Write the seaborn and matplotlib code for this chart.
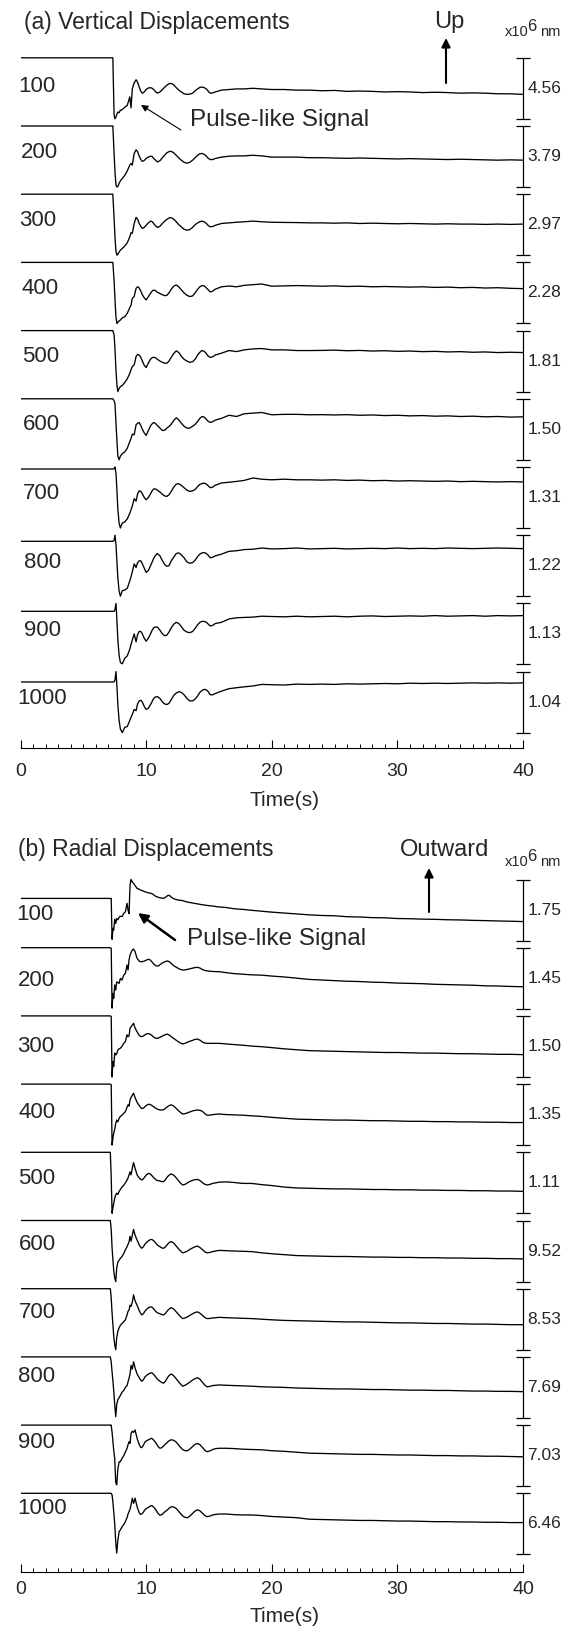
import numpy as np
import pandas as pd
import matplotlib
matplotlib.use('Agg')
import matplotlib.pyplot as plt
from matplotlib.ticker import MultipleLocator
import seaborn as sns

sns.set_theme(style='ticks')
plt.rcParams['font.family'] = ['Liberation Sans', 'DejaVu Sans']

## Data
# every trace is scaled to its own peak-to-peak range:
# 1 = top of its scale bar, 0 = bottom of its scale bar
distances = [100, 200, 300, 400, 500, 600, 700, 800, 900, 1000]

# (a) vertical displacements
time_v = [0.0, 7.35, 7.45, 7.52, 7.6, 7.68, 7.75, 7.85, 7.95, 8.1,
          8.3, 8.5, 8.7, 8.8, 8.9, 9.05, 9.2, 9.32, 9.45, 9.58,
          9.7, 9.85, 10.0, 10.18, 10.35, 10.48, 10.6, 10.75, 10.9, 11.1,
          11.3, 11.48, 11.65, 11.82, 12.0, 12.2, 12.4, 12.6, 12.8, 13.02,
          13.25, 13.48, 13.7, 13.9, 14.1, 14.28, 14.45, 14.63, 14.8, 14.95,
          15.1, 15.3, 15.5, 16.0, 16.6, 17.2, 17.8, 18.5, 19.2,
          20, 21, 22, 23, 24, 25, 26, 27, 28, 29, 30, 31, 32, 33, 34, 35, 36, 37, 38, 39, 40]

vert_100 = [1.0, 1.0, 0.06, 0.0, 0.03, 0.08, 0.11, 0.10, 0.14, 0.15,
            0.19, 0.22, 0.36, 0.18, 0.49, 0.59, 0.64, 0.60, 0.52, 0.45,
            0.42, 0.44, 0.48, 0.505, 0.51, 0.50, 0.48, 0.445, 0.42, 0.44,
            0.48, 0.52, 0.55, 0.575, 0.58, 0.555, 0.51, 0.47, 0.44, 0.41,
            0.40, 0.405, 0.42, 0.46, 0.49, 0.515, 0.52, 0.51, 0.49, 0.45,
            0.42, 0.425, 0.44, 0.47, 0.48, 0.49, 0.49, 0.50, 0.49,
            0.48, 0.48, 0.47, 0.47, 0.46, 0.465, 0.45, 0.455, 0.45, 0.44, 0.445,
            0.44, 0.43, 0.435, 0.43, 0.42, 0.425, 0.42, 0.41, 0.41, 0.40]
vert_200 = [1.0, 1.0, 0.55, 0.25, 0.03, 0.0, 0.01, 0.06, 0.10, 0.14,
            0.19, 0.265, 0.36, 0.385, 0.36, 0.55, 0.61, 0.58, 0.505, 0.45,
            0.42, 0.435, 0.467, 0.49, 0.505, 0.50, 0.467, 0.44, 0.412, 0.43,
            0.482, 0.525, 0.56, 0.58, 0.585, 0.56, 0.52, 0.475, 0.44, 0.405,
            0.39, 0.405, 0.44, 0.48, 0.52, 0.545, 0.55, 0.535, 0.505, 0.47,
            0.45, 0.45, 0.467, 0.49, 0.505, 0.51, 0.51, 0.52, 0.51,
            0.49, 0.49, 0.49, 0.48, 0.48, 0.475, 0.47, 0.475, 0.47, 0.465, 0.46,
            0.465, 0.46, 0.455, 0.45, 0.455, 0.45, 0.445, 0.44, 0.445, 0.44]
vert_300 = [1.0, 1.0, 0.6, 0.3, 0.06, 0.0, 0.018, 0.05, 0.083, 0.11,
            0.15, 0.204, 0.30, 0.37, 0.36, 0.52, 0.62, 0.59, 0.52, 0.47,
            0.44, 0.455, 0.49, 0.53, 0.559, 0.55, 0.52, 0.48, 0.455, 0.475,
            0.52, 0.56, 0.587, 0.61, 0.614, 0.59, 0.548, 0.50, 0.466, 0.425,
            0.41, 0.42, 0.455, 0.50, 0.53, 0.55, 0.559, 0.545, 0.52, 0.485,
            0.466, 0.47, 0.49, 0.52, 0.53, 0.54, 0.548, 0.559, 0.548,
            0.54, 0.537, 0.535, 0.53, 0.53, 0.525, 0.53, 0.52, 0.525, 0.52, 0.515,
            0.52, 0.515, 0.51, 0.515, 0.51, 0.51, 0.505, 0.51, 0.505, 0.51]
vert_400 = [1.0, 1.0, 0.7, 0.4, 0.1, 0.0, 0.02, 0.04, 0.055, 0.09,
            0.11, 0.165, 0.26, 0.30, 0.41, 0.44, 0.575, 0.60, 0.58, 0.53,
            0.47, 0.42, 0.384, 0.44, 0.493, 0.53, 0.548, 0.535, 0.51, 0.49,
            0.47, 0.455, 0.46, 0.50, 0.56, 0.61, 0.63, 0.60, 0.55, 0.50,
            0.46, 0.44, 0.45, 0.50, 0.56, 0.60, 0.62, 0.615, 0.58, 0.55,
            0.515, 0.53, 0.56, 0.60, 0.613, 0.60, 0.624, 0.635, 0.646,
            0.61, 0.615, 0.62, 0.615, 0.61, 0.615, 0.605, 0.61, 0.60, 0.605, 0.60,
            0.595, 0.60, 0.59, 0.595, 0.585, 0.59, 0.58, 0.585, 0.575, 0.57]
vert_500 = [1.0, 1.0, 0.93, 0.7, 0.35, 0.1, 0.0, 0.05, 0.082, 0.10,
            0.15, 0.21, 0.30, 0.36, 0.41, 0.438, 0.575, 0.61, 0.60, 0.56,
            0.50, 0.43, 0.394, 0.47, 0.531, 0.555, 0.563, 0.555, 0.53, 0.50,
            0.48, 0.465, 0.465, 0.50, 0.563, 0.625, 0.668, 0.64, 0.58, 0.53,
            0.50, 0.48, 0.49, 0.53, 0.60, 0.645, 0.673, 0.66, 0.62, 0.58,
            0.56, 0.57, 0.60, 0.63, 0.673, 0.656, 0.684, 0.70, 0.706,
            0.684, 0.684, 0.673, 0.673, 0.675, 0.68, 0.67, 0.675, 0.665, 0.67, 0.66,
            0.665, 0.655, 0.66, 0.65, 0.655, 0.645, 0.65, 0.64, 0.645, 0.64]
vert_600 = [1.0, 1.0, 0.97, 0.92, 0.6, 0.3, 0.06, 0.0, 0.06, 0.10,
            0.13, 0.19, 0.30, 0.35, 0.42, 0.41, 0.574, 0.60, 0.61, 0.56,
            0.50, 0.44, 0.40, 0.48, 0.557, 0.59, 0.612, 0.595, 0.56, 0.52,
            0.48, 0.485, 0.52, 0.545, 0.585, 0.645, 0.689, 0.655, 0.60, 0.55,
            0.519, 0.52, 0.55, 0.58, 0.628, 0.68, 0.71, 0.70, 0.66, 0.63,
            0.612, 0.625, 0.65, 0.68, 0.73, 0.71, 0.754, 0.765, 0.776,
            0.738, 0.745, 0.745, 0.738, 0.74, 0.735, 0.74, 0.73, 0.735, 0.725, 0.73,
            0.72, 0.725, 0.715, 0.72, 0.71, 0.715, 0.705, 0.71, 0.70, 0.705]
vert_700 = [0.967, 0.967, 0.97, 1.0, 0.9, 0.6, 0.3, 0.08, 0.0, 0.08,
            0.10, 0.15, 0.24, 0.30, 0.36, 0.48, 0.44, 0.56, 0.61, 0.60,
            0.56, 0.50, 0.464, 0.50, 0.56, 0.61, 0.64, 0.64, 0.62, 0.59,
            0.55, 0.525, 0.518, 0.545, 0.60, 0.67, 0.72, 0.725, 0.70, 0.66,
            0.62, 0.60, 0.61, 0.63, 0.68, 0.715, 0.73, 0.735, 0.72, 0.69,
            0.66, 0.67, 0.70, 0.738, 0.75, 0.764, 0.78, 0.82, 0.80,
            0.79, 0.80, 0.79, 0.79, 0.785, 0.79, 0.78, 0.785, 0.775, 0.78, 0.77,
            0.775, 0.77, 0.765, 0.77, 0.76, 0.765, 0.76, 0.755, 0.76, 0.755]
vert_800 = [0.90, 0.90, 0.91, 1.0, 0.85, 0.55, 0.3, 0.08, 0.0, 0.09,
            0.10, 0.13, 0.25, 0.32, 0.40, 0.53, 0.47, 0.55, 0.58, 0.58,
            0.53, 0.46, 0.39, 0.42, 0.50, 0.56, 0.62, 0.67, 0.70, 0.66,
            0.58, 0.52, 0.49, 0.50, 0.58, 0.64, 0.70, 0.71, 0.68, 0.63,
            0.56, 0.54, 0.55, 0.59, 0.65, 0.69, 0.71, 0.715, 0.70, 0.67,
            0.63, 0.64, 0.66, 0.69, 0.736, 0.745, 0.764, 0.77, 0.79,
            0.775, 0.78, 0.79, 0.775, 0.78, 0.785, 0.775, 0.78, 0.785, 0.78, 0.79,
            0.78, 0.785, 0.78, 0.79, 0.785, 0.78, 0.785, 0.79, 0.785, 0.78]
vert_900 = [0.87, 0.87, 0.87, 0.90, 1.0, 0.7, 0.4, 0.15, 0.03, 0.01,
            0.10, 0.14, 0.25, 0.33, 0.40, 0.50, 0.37, 0.49, 0.54, 0.54,
            0.50, 0.43, 0.38, 0.43, 0.50, 0.56, 0.60, 0.615, 0.61, 0.56,
            0.50, 0.47, 0.48, 0.53, 0.60, 0.66, 0.69, 0.67, 0.62, 0.56,
            0.53, 0.52, 0.54, 0.59, 0.65, 0.69, 0.705, 0.705, 0.69, 0.66,
            0.63, 0.64, 0.67, 0.69, 0.745, 0.764, 0.77, 0.775, 0.79,
            0.785, 0.78, 0.79, 0.78, 0.785, 0.79, 0.78, 0.79, 0.795, 0.785, 0.79,
            0.795, 0.79, 0.80, 0.79, 0.795, 0.80, 0.79, 0.80, 0.795, 0.80]
vert_1000 = [0.83, 0.83, 0.83, 0.86, 1.0, 0.75, 0.45, 0.2, 0.06, 0.0,
             0.085, 0.10, 0.20, 0.25, 0.30, 0.38, 0.36, 0.47, 0.52, 0.53,
             0.50, 0.43, 0.38, 0.40, 0.46, 0.51, 0.56, 0.585, 0.59, 0.56,
             0.50, 0.47, 0.46, 0.48, 0.54, 0.61, 0.65, 0.67, 0.66, 0.62,
             0.56, 0.52, 0.52, 0.55, 0.60, 0.66, 0.69, 0.71, 0.70, 0.67,
             0.62, 0.62, 0.64, 0.68, 0.72, 0.736, 0.75, 0.764, 0.79,
             0.785, 0.78, 0.795, 0.79, 0.795, 0.79, 0.80, 0.795, 0.80, 0.805, 0.80,
             0.81, 0.805, 0.81, 0.805, 0.81, 0.815, 0.81, 0.815, 0.81, 0.815]
vert_scale = ['4.56', '3.79', '2.97', '2.28', '1.81', '1.50', '1.31', '1.22', '1.13', '1.04']

# (b) radial displacements
time_r = [0.0, 7.15, 7.22, 7.29, 7.36, 7.42, 7.5, 7.58, 7.66, 7.75, 7.85, 7.95, 8.08,
          8.22, 8.35, 8.48, 8.56, 8.64, 8.72, 8.8, 8.9, 9.0, 9.12,
          9.28, 9.45, 9.55, 9.65, 9.78, 9.9, 10.05, 10.2, 10.32, 10.45,
          10.62, 10.8, 10.95, 11.1, 11.25, 11.4, 11.55, 11.7, 11.85, 12.0,
          12.2, 12.4, 12.65, 12.9, 13.1, 13.3, 13.5, 13.7, 13.9, 14.1,
          14.3, 14.5, 14.68, 14.85, 15.05, 15.3, 15.55, 15.8,
          16.4, 17.0, 17.7, 18.4, 19.2,
          20, 21, 22, 23, 24, 25, 26, 27, 28, 29, 30, 31, 32, 33, 34, 35, 36, 37, 38, 39, 40]

rad_100 = [0.69, 0.69, 0.69, 0.02, 0.20, 0.17, 0.35, 0.28, 0.36, 0.34, 0.38, 0.40, 0.39,
           0.445, 0.47, 0.61, 0.50, 0.44, 0.91, 1.0, 0.96, 0.937, 0.90,
           0.855, 0.84, 0.828, 0.82, 0.81, 0.80, 0.79, 0.78, 0.775, 0.77,
           0.745, 0.72, 0.71, 0.70, 0.695, 0.69, 0.71, 0.735, 0.74, 0.71,
           0.685, 0.67, 0.66, 0.655, 0.64, 0.63, 0.622, 0.615, 0.607, 0.60,
           0.592, 0.585, 0.58, 0.575, 0.57, 0.565, 0.557, 0.55,
           0.54, 0.52, 0.51, 0.495, 0.48,
           0.465, 0.45, 0.435, 0.42, 0.41, 0.405, 0.39, 0.385, 0.375, 0.372, 0.36,
           0.357, 0.35, 0.347, 0.34, 0.337, 0.33, 0.326, 0.32, 0.316, 0.31]
rad_200 = [1.0, 1.0, 0.99, 0.01, 0.25, 0.17, 0.39, 0.306, 0.44, 0.43, 0.415, 0.497, 0.47,
           0.552, 0.58, 0.716, 0.634, 0.80, 0.88, 0.92, 0.962, 0.978, 0.935,
           0.825, 0.78, 0.77, 0.771, 0.775, 0.785, 0.80, 0.81, 0.80, 0.77,
           0.73, 0.70, 0.70, 0.72, 0.745, 0.76, 0.775, 0.782, 0.77, 0.74,
           0.705, 0.68, 0.65, 0.634, 0.635, 0.645, 0.655, 0.665, 0.675, 0.678,
           0.665, 0.64, 0.627, 0.62, 0.615, 0.61, 0.608, 0.607,
           0.59, 0.575, 0.565, 0.555, 0.55,
           0.535, 0.52, 0.50, 0.48, 0.47, 0.46, 0.45, 0.445, 0.435, 0.43, 0.42,
           0.415, 0.41, 0.40, 0.395, 0.39, 0.385, 0.375, 0.372, 0.365, 0.36]
rad_300 = [1.0, 1.0, 0.99, 0.0, 0.25, 0.17, 0.39, 0.36, 0.38, 0.44, 0.46, 0.47, 0.50,
           0.55, 0.58, 0.69, 0.66, 0.67, 0.80, 0.82, 0.85, 0.88, 0.80,
           0.74, 0.68, 0.665, 0.66, 0.67, 0.69, 0.705, 0.71, 0.70, 0.68,
           0.65, 0.63, 0.635, 0.65, 0.665, 0.68, 0.695, 0.70, 0.685, 0.66,
           0.63, 0.60, 0.565, 0.54, 0.55, 0.57, 0.585, 0.60, 0.615, 0.62,
           0.60, 0.57, 0.555, 0.55, 0.55, 0.55, 0.55, 0.55,
           0.54, 0.53, 0.52, 0.505, 0.495,
           0.48, 0.46, 0.445, 0.43, 0.425, 0.42, 0.415, 0.41, 0.405, 0.40, 0.40,
           0.395, 0.39, 0.39, 0.385, 0.38, 0.38, 0.375, 0.37, 0.37, 0.365]
rad_400 = [1.0, 1.0, 0.99, 0.0, 0.12, 0.19, 0.26, 0.355, 0.41, 0.38, 0.44, 0.47, 0.49,
           0.52, 0.55, 0.62, 0.66, 0.64, 0.74, 0.78, 0.82, 0.85, 0.78,
           0.70, 0.65, 0.62, 0.60, 0.605, 0.63, 0.655, 0.67, 0.665, 0.65,
           0.625, 0.60, 0.585, 0.575, 0.575, 0.58, 0.605, 0.63, 0.65, 0.66,
           0.64, 0.60, 0.55, 0.51, 0.515, 0.53, 0.545, 0.56, 0.57, 0.575,
           0.57, 0.55, 0.515, 0.49, 0.49, 0.50, 0.505, 0.51,
           0.50, 0.495, 0.49, 0.48, 0.47,
           0.455, 0.44, 0.425, 0.42, 0.415, 0.41, 0.41, 0.405, 0.40, 0.40, 0.395,
           0.39, 0.39, 0.385, 0.385, 0.38, 0.38, 0.375, 0.375, 0.37, 0.37]
rad_500 = [1.0, 1.0, 0.6, 0.0, 0.10, 0.16, 0.25, 0.30, 0.33, 0.31, 0.36, 0.39, 0.43,
           0.46, 0.50, 0.546, 0.58, 0.63, 0.68, 0.63, 0.74, 0.83, 0.74,
           0.63, 0.58, 0.56, 0.546, 0.565, 0.60, 0.635, 0.655, 0.645, 0.62,
           0.58, 0.546, 0.535, 0.53, 0.52, 0.52, 0.555, 0.60, 0.63, 0.645,
           0.625, 0.58, 0.515, 0.464, 0.475, 0.50, 0.525, 0.54, 0.552, 0.556,
           0.535, 0.50, 0.475, 0.464, 0.472, 0.49, 0.50, 0.51,
           0.515, 0.505, 0.49, 0.49, 0.47,
           0.455, 0.43, 0.415, 0.41, 0.405, 0.40, 0.40, 0.395, 0.39, 0.39, 0.385,
           0.385, 0.38, 0.38, 0.375, 0.375, 0.37, 0.37, 0.365, 0.365, 0.36]
rad_600 = [1.0, 1.0, 0.85, 0.55, 0.35, 0.18, 0.06, 0.0, 0.22, 0.32, 0.35, 0.38, 0.41,
           0.46, 0.52, 0.57, 0.61, 0.65, 0.74, 0.66, 0.76, 0.855, 0.76,
           0.68, 0.60, 0.565, 0.545, 0.57, 0.61, 0.645, 0.67, 0.685, 0.69,
           0.665, 0.62, 0.59, 0.57, 0.55, 0.545, 0.57, 0.61, 0.64, 0.655,
           0.63, 0.58, 0.52, 0.47, 0.48, 0.50, 0.53, 0.55, 0.57, 0.58,
           0.555, 0.52, 0.485, 0.47, 0.475, 0.49, 0.50, 0.51,
           0.505, 0.50, 0.495, 0.49, 0.47,
           0.455, 0.44, 0.425, 0.42, 0.415, 0.41, 0.41, 0.405, 0.40, 0.40, 0.395,
           0.395, 0.39, 0.39, 0.385, 0.385, 0.38, 0.38, 0.375, 0.375, 0.37]
rad_700 = [1.0, 1.0, 0.85, 0.6, 0.4, 0.22, 0.08, 0.0, 0.2, 0.30, 0.36, 0.40, 0.43,
           0.46, 0.49, 0.57, 0.63, 0.65, 0.73, 0.71, 0.78, 0.90, 0.80,
           0.73, 0.64, 0.60, 0.57, 0.59, 0.63, 0.665, 0.69, 0.70, 0.70,
           0.665, 0.62, 0.60, 0.59, 0.575, 0.57, 0.60, 0.64, 0.67, 0.69,
           0.665, 0.62, 0.56, 0.51, 0.52, 0.54, 0.565, 0.59, 0.61, 0.62,
           0.595, 0.56, 0.525, 0.51, 0.512, 0.52, 0.525, 0.53,
           0.525, 0.52, 0.515, 0.51, 0.50,
           0.49, 0.48, 0.475, 0.47, 0.465, 0.46, 0.455, 0.455, 0.45, 0.445, 0.44,
           0.44, 0.435, 0.43, 0.43, 0.425, 0.42, 0.42, 0.415, 0.41, 0.41]
rad_800 = [1.0, 1.0, 0.92, 0.75, 0.6, 0.45, 0.22, 0.02, 0.22, 0.30, 0.33, 0.37, 0.42,
           0.45, 0.50, 0.53, 0.59, 0.65, 0.72, 0.86, 0.80, 0.92, 0.82,
           0.72, 0.66, 0.625, 0.60, 0.625, 0.67, 0.70, 0.72, 0.735, 0.74,
           0.71, 0.66, 0.625, 0.60, 0.58, 0.57, 0.605, 0.66, 0.70, 0.72,
           0.69, 0.64, 0.575, 0.52, 0.535, 0.56, 0.59, 0.62, 0.645, 0.66,
           0.63, 0.58, 0.535, 0.51, 0.515, 0.53, 0.535, 0.54,
           0.535, 0.53, 0.525, 0.52, 0.51,
           0.505, 0.50, 0.49, 0.485, 0.48, 0.475, 0.475, 0.47, 0.465, 0.465, 0.46,
           0.455, 0.455, 0.45, 0.45, 0.445, 0.44, 0.44, 0.435, 0.435, 0.43]
rad_900 = [1.0, 1.0, 1.0, 0.88, 0.72, 0.59, 0.45, 0.06, 0.02, 0.28, 0.40, 0.40, 0.455,
           0.50, 0.56, 0.62, 0.68, 0.728, 0.70, 0.865, 0.90, 0.88, 0.92,
           0.783, 0.68, 0.64, 0.63, 0.67, 0.72, 0.745, 0.76, 0.775, 0.783,
           0.75, 0.70, 0.65, 0.62, 0.63, 0.66, 0.69, 0.72, 0.745, 0.76,
           0.75, 0.72, 0.655, 0.60, 0.58, 0.58, 0.61, 0.65, 0.685, 0.70,
           0.675, 0.63, 0.585, 0.564, 0.575, 0.60, 0.615, 0.62,
           0.62, 0.615, 0.605, 0.60, 0.595,
           0.58, 0.57, 0.555, 0.54, 0.535, 0.53, 0.525, 0.52, 0.52, 0.515, 0.51,
           0.51, 0.505, 0.50, 0.50, 0.495, 0.495, 0.49, 0.49, 0.485, 0.48]
rad_1000 = [1.0, 1.0, 1.0, 0.97, 0.85, 0.70, 0.50, 0.20, 0.02, 0.23, 0.37, 0.40, 0.45,
            0.49, 0.535, 0.60, 0.66, 0.70, 0.74, 0.81, 0.92, 0.835, 0.92,
            0.78, 0.68, 0.655, 0.66, 0.69, 0.73, 0.755, 0.77, 0.79, 0.80,
            0.77, 0.72, 0.67, 0.64, 0.65, 0.68, 0.705, 0.73, 0.76, 0.78,
            0.775, 0.75, 0.69, 0.63, 0.605, 0.60, 0.63, 0.67, 0.71, 0.73,
            0.71, 0.67, 0.635, 0.617, 0.625, 0.645, 0.655, 0.66,
            0.66, 0.65, 0.645, 0.645, 0.635,
            0.62, 0.61, 0.60, 0.575, 0.57, 0.565, 0.56, 0.555, 0.555, 0.55, 0.545,
            0.545, 0.54, 0.535, 0.535, 0.53, 0.53, 0.525, 0.525, 0.52, 0.52]
rad_scale = ['1.75', '1.45', '1.50', '1.35', '1.11', '9.52', '8.53', '7.69', '7.03', '6.46']

vert_traces = [vert_100, vert_200, vert_300, vert_400, vert_500,
               vert_600, vert_700, vert_800, vert_900, vert_1000]
rad_traces = [rad_100, rad_200, rad_300, rad_400, rad_500,
              rad_600, rad_700, rad_800, rad_900, rad_1000]

## Layout (output pixels, measured from the top)
W, H = 587, 1628
X0, X40 = 20.5, 523.0     # x of t=0 and t=40
BAR_H = 61.0              # height of one scale bar
STEP = 68.2               # distance between bar tops


def fpos(x, y):
    return x / W, 1 - y / H


def long_table(time, traces):
    parts = []
    for i, (d, u) in enumerate(zip(distances, traces)):
        off = -i * STEP / BAR_H
        parts.append(pd.DataFrame({'time': time,
                                   'disp': np.array(u) - 1 + off,
                                   'dist': d}))
    return pd.concat(parts, ignore_index=True)


def panel(fig, time, traces, scales, top_px, band0_px, axis_px,
          tick_pad, xlabel_px, label_y, label_x):
    ax_h = axis_px - top_px
    ax = fig.add_axes([X0 / W, 1 - axis_px / H, (X40 - X0) / W, ax_h / H])
    df = long_table(time, traces)
    sns.lineplot(data=df, x='time', y='disp', units='dist', estimator=None,
                 color='black', linewidth=0.95, ax=ax, legend=False)
    ax.set_xlim(0, 40)
    ax.set_ylim(-(axis_px - band0_px) / BAR_H, (band0_px - top_px) / BAR_H)

    # scale bars with caps
    for i, s in enumerate(scales):
        top = -i * STEP / BAR_H
        bot = top - 1
        ax.vlines(40, bot, top, color='black', lw=0.9, clip_on=False)
        ax.hlines([top, bot], 40 - 0.56, 40 + 0.56, color='black', lw=0.9, clip_on=False)
        yc = band0_px + i * STEP + BAR_H / 2
        fig.text(*fpos(527.5, yc), s, fontsize=12.5, ha='left', va='center')

    # distance labels
    for d, lx, ly in zip(distances, label_x, label_y):
        fig.text(*fpos(lx, ly), str(d), fontsize=16, ha='left', va='center')

    # x axis
    sns.despine(ax=ax, left=True)
    ax.spines['bottom'].set_color('black')
    ax.spines['bottom'].set_linewidth(0.8)
    ax.set_yticks([])
    ax.set_ylabel('')
    ax.set_xticks([0, 10, 20, 30, 40])
    ax.xaxis.set_minor_locator(MultipleLocator(1))
    ax.tick_params(axis='x', which='major', direction='in', length=5.5, width=0.8,
                   color='black', labelsize=14, pad=tick_pad)
    ax.tick_params(axis='x', which='minor', direction='in', length=3, width=0.7,
                   color='black')
    ax.set_xlabel('Time(s)', fontsize=15, va='center')
    ax.xaxis.set_label_coords((285 - X0) / (X40 - X0), -xlabel_px / ax_h)
    return ax


def unit_text(fig, x, y):
    # "x10^6 nm" drawn as three pieces so the 6 keeps its size
    fig.text(*fpos(x, y), 'x10', fontsize=10.5, ha='left', va='baseline')
    fig.text(*fpos(x + 22.5, y - 5), '6', fontsize=12, ha='left', va='baseline')
    fig.text(*fpos(x + 35, y), 'nm', fontsize=10.5, ha='left', va='baseline')


fig = plt.figure(figsize=(W / 100, H / 100), dpi=100)

# (a)
panel(fig, time_v, vert_traces, vert_scale, top_px=40, band0_px=57.8, axis_px=748,
      tick_pad=11, xlabel_px=52,
      label_y=[87, 153, 221, 289, 357, 425, 494, 562, 630, 698],
      label_x=[18, 21, 19.5, 21, 22, 22.5, 23, 23.5, 23.5, 17.5])
# (b)
panel(fig, time_r, rad_traces, rad_scale, top_px=862, band0_px=879.5, axis_px=1571.7,
      tick_pad=7, xlabel_px=45,
      label_y=[915, 981, 1047, 1113, 1179, 1245, 1312, 1377, 1443, 1509],
      label_x=[16.5, 17.5, 17.5, 18.5, 18.5, 18.5, 18.5, 18.5, 18.5, 17])

# overlay in pixel units for the arrows
ov = fig.add_axes([0, 0, 1, 1])
ov.set_xlim(0, W)
ov.set_ylim(H, 0)
ov.set_axis_off()


def arrow(x0, y0, x1, y1, lw, scale):
    ov.annotate('', xy=(x1, y1), xytext=(x0, y0),
                arrowprops=dict(arrowstyle='-|>', color='black', lw=lw,
                                mutation_scale=scale, shrinkA=0, shrinkB=0))


# titles and annotations
fig.text(*fpos(24, 23), '(a) Vertical Displacements', fontsize=16.5, ha='left', va='center')
fig.text(*fpos(18, 849), '(b) Radial Displacements', fontsize=16.5, ha='left', va='center')

fig.text(*fpos(449, 22), 'Up', fontsize=17, ha='center', va='center')
arrow(446, 83, 446, 38, 1.5, 13)
fig.text(*fpos(445, 850), 'Outward', fontsize=17, ha='center', va='center')
arrow(429, 912, 429, 868, 1.5, 13)

unit_text(fig, 505, 36)
unit_text(fig, 505, 866)

fig.text(*fpos(190, 120), 'Pulse-like Signal', fontsize=17.5, ha='left', va='center')
arrow(181, 130, 141, 105, 0.8, 10)
fig.text(*fpos(187, 939), 'Pulse-like Signal', fontsize=17.5, ha='left', va='center')
arrow(175, 940, 138, 913, 1.8, 14)

fig.savefig('out.png', dpi=100)
